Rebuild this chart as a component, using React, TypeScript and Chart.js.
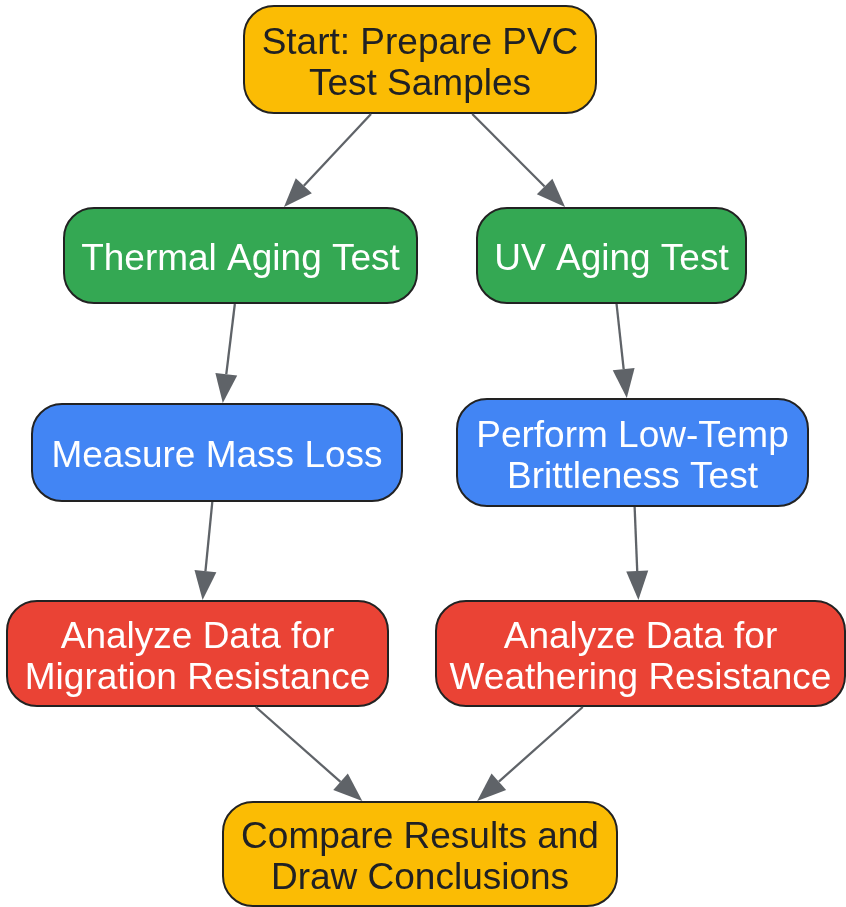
import React, { useEffect, useRef } from "react";
import { Chart, registerables } from "chart.js";

Chart.register(...registerables);

// Node data (flowchart steps)
const NODE_LABELS: string[][] = [
  ["Start: Prepare PVC", "Test Samples"],
  ["Thermal Aging Test"],
  ["UV Aging Test"],
  ["Measure Mass Loss"],
  ["Perform Low-Temp", "Brittleness Test"],
  ["Analyze Data for", "Migration Resistance"],
  ["Analyze Data for", "Weathering Resistance"],
  ["Compare Results and", "Draw Conclusions"],
];
const NODE_X = [420, 240.5, 611.5, 217, 632.5, 197.5, 640.5, 420];
const NODE_Y = [59.5, 255.5, 255.5, 452.5, 452.5, 653.5, 653.5, 854];
const NODE_W = [352, 353, 269, 370, 351, 381, 409, 394];
const NODE_H = [107, 95, 95, 97, 107, 105, 105, 104];
const NODE_KIND = ["start", "test", "test", "measure", "measure", "analyze", "analyze", "start"];

// Edges
const EDGE_FROM = [0, 0, 1, 2, 3, 4, 5, 6];
const EDGE_TO = [1, 2, 3, 4, 5, 6, 7, 7];

const KIND_FILL: Record<string, string> = {
  start: "#FBBC04",
  test: "#34A853",
  measure: "#4285F4",
  analyze: "#EA4335",
};
const KIND_TEXT: Record<string, string> = {
  start: "#202124",
  test: "#FFFFFF",
  measure: "#FFFFFF",
  analyze: "#FFFFFF",
};

const W = 846;
const H = 907;

const flowPlugin = {
  id: "flowPlugin",
  afterDatasetsDraw(chart: any) {
    const ctx: CanvasRenderingContext2D = chart.ctx;
    const xs = chart.scales.x;
    const ys = chart.scales.y;
    const boxes = NODE_X.map((cx, i) => {
      const px = xs.getPixelForValue(cx);
      const py = ys.getPixelForValue(NODE_Y[i]);
      const hw = Math.abs(xs.getPixelForValue(cx + NODE_W[i] / 2) - px);
      const hh = Math.abs(ys.getPixelForValue(NODE_Y[i] + NODE_H[i] / 2) - py);
      return { px, py, hw, hh };
    });

    ctx.save();
    // nodes
    boxes.forEach((b, i) => {
      const r = 30;
      const x = b.px - b.hw, y = b.py - b.hh, w = b.hw * 2, h = b.hh * 2;
      ctx.beginPath();
      ctx.moveTo(x + r, y);
      ctx.lineTo(x + w - r, y);
      ctx.arcTo(x + w, y, x + w, y + r, r);
      ctx.lineTo(x + w, y + h - r);
      ctx.arcTo(x + w, y + h, x + w - r, y + h, r);
      ctx.lineTo(x + r, y + h);
      ctx.arcTo(x, y + h, x, y + h - r, r);
      ctx.lineTo(x, y + r);
      ctx.arcTo(x, y, x + r, y, r);
      ctx.closePath();
      ctx.fillStyle = KIND_FILL[NODE_KIND[i]];
      ctx.fill();
      ctx.lineWidth = 2;
      ctx.strokeStyle = "#222222";
      ctx.stroke();

      ctx.fillStyle = KIND_TEXT[NODE_KIND[i]];
      ctx.font = '37px "Liberation Sans", Arial, sans-serif';
      ctx.textAlign = "center";
      ctx.textBaseline = "middle";
      const lines = NODE_LABELS[i];
      const lh = 41;
      const startY = b.py - ((lines.length - 1) * lh) / 2 + 4.5;
      lines.forEach((t, k) => ctx.fillText(t, b.px, startY + k * lh));
    });

    // edges
    EDGE_FROM.forEach((f, e) => {
      const a = boxes[f];
      const b = boxes[EDGE_TO[e]];
      const dx = b.px - a.px;
      const dy = b.py - a.py;
      const t1 = Math.min(dx !== 0 ? a.hw / Math.abs(dx) : Infinity, dy !== 0 ? a.hh / Math.abs(dy) : Infinity);
      const t2 = Math.min(dx !== 0 ? b.hw / Math.abs(dx) : Infinity, dy !== 0 ? b.hh / Math.abs(dy) : Infinity);
      const sx = a.px + dx * t1, sy = a.py + dy * t1 + 1;
      const ex = b.px - dx * t2, ey = b.py - dy * t2 - 1;
      const len = Math.hypot(ex - sx, ey - sy);
      const ux = (ex - sx) / len, uy = (ey - sy) / len;
      const headL = 29, headW = 11;
      const bx = ex - ux * headL, by = ey - uy * headL;
      ctx.strokeStyle = "#5F6368";
      ctx.fillStyle = "#5F6368";
      ctx.lineWidth = 2.3;
      ctx.beginPath();
      ctx.moveTo(sx, sy);
      ctx.lineTo(bx, by);
      ctx.stroke();
      ctx.beginPath();
      ctx.moveTo(ex, ey);
      ctx.lineTo(bx - uy * headW, by + ux * headW);
      ctx.lineTo(bx + uy * headW, by - ux * headW);
      ctx.closePath();
      ctx.fill();
    });
    ctx.restore();
  },
};

export default function App() {
  const ref = useRef<HTMLCanvasElement | null>(null);
  useEffect(() => {
    if (!ref.current) return;
    const chart = new Chart(ref.current, {
      type: "scatter",
      data: {
        datasets: [
          {
            data: NODE_X.map((x, i) => ({ x, y: NODE_Y[i] })),
            pointRadius: 0,
            showLine: false,
          },
        ],
      },
      options: {
        animation: false,
        responsive: false,
        layout: { padding: 0 },
        plugins: { legend: { display: false }, tooltip: { enabled: false } },
        scales: {
          x: { type: "linear", min: 0, max: W, display: false },
          y: { type: "linear", min: 0, max: H, reverse: true, display: false },
        },
      },
      plugins: [flowPlugin],
    });
    return () => chart.destroy();
  }, []);
  return (
    <div style={{ position: "absolute", left: 0, top: 0, width: W, height: H, background: "#fff" }}>
      <canvas ref={ref} width={W} height={H} style={{ display: "block", width: W, height: H }} />
    </div>
  );
}
